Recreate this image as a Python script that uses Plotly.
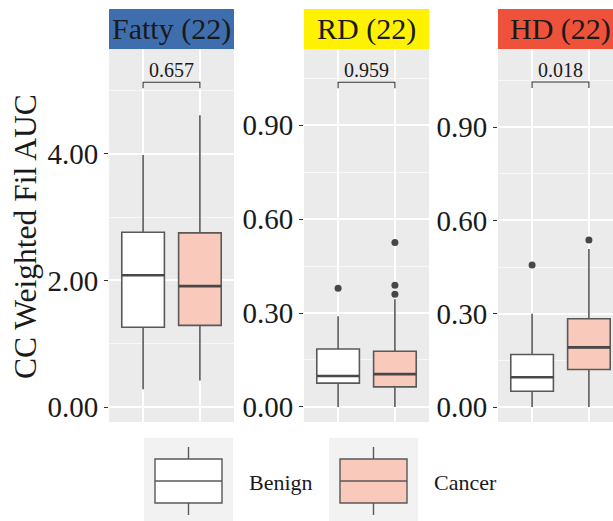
import plotly.graph_objects as go

# ---- data -------------------------------------------------------------
panels = ["Fatty (22)", "RD (22)", "HD (22)"]
strip_colors = ["#3F6EAE", "#FFF200", "#EF523B"]
groups = ["Benign", "Cancer"]
group_fill = ["#FFFFFF", "#F9C9BC"]

# five-number summaries per panel: [Benign, Cancer]
q1 = [[1.26, 1.29], [0.076, 0.064], [0.051, 0.121]]
median = [[2.08, 1.91], [0.099, 0.105], [0.096, 0.192]]
q3 = [[2.76, 2.75], [0.185, 0.178], [0.169, 0.284]]
lower = [[0.28, 0.42], [0.0, 0.0], [0.0, 0.0]]
upper = [[3.98, 4.61], [0.29, 0.344], [0.30, 0.508]]
outliers = [[[], []], [[0.379], [0.36, 0.389, 0.525]], [[0.457], [0.537]]]

p_values = ["0.657", "0.959", "0.018"]
bracket_y = [5.13, 1.037, 1.045]
bracket_tip = [0.095, 0.019, 0.019]

y_ranges = [[-0.237, 5.655], [-0.048, 1.143], [-0.048, 1.151]]
y_ticks = [[0, 2, 4], [0, 0.3, 0.6, 0.9], [0, 0.3, 0.6, 0.9]]
y_minor = [1, 0.15, 0.15]
x_ranges = [[0.4, 2.6], [0.4, 2.6], [0.4, 2.424]]

# ---- layout geometry (pixels) ----------------------------------------
W, H = 613, 521
panel_x = [(109, 234), (304, 429), (498, 613)]
plot_top, plot_bot = 49, 422
strip_top = 9


def px(x):
    return x / W


def py(y):
    return (H - y) / H


FONT = "Liberation Serif, Times New Roman, serif"
INK = "#1A1A1A"
BOX_LINE = "#595959"

fig = go.Figure()
box_w = 0.75

for p in range(3):
    xa = "x" if p == 0 else f"x{p + 1}"
    ya = "y" if p == 0 else f"y{p + 1}"
    for g in range(2):
        xpos = g + 1
        fig.add_trace(go.Box(
            x=[xpos], q1=[q1[p][g]], median=[median[p][g]], q3=[q3[p][g]],
            lowerfence=[lower[p][g]], upperfence=[upper[p][g]],
            width=box_w, whiskerwidth=0, boxpoints=False,
            fillcolor=group_fill[g], line=dict(color=BOX_LINE, width=1.6),
            xaxis=xa, yaxis=ya, showlegend=False, hoverinfo="skip",
        ))
        # heavier median bar
        fig.add_trace(go.Scatter(
            x=[xpos - box_w / 2, xpos + box_w / 2],
            y=[median[p][g], median[p][g]],
            mode="lines", line=dict(color="#484848", width=2.6),
            xaxis=xa, yaxis=ya, showlegend=False, hoverinfo="skip",
        ))
        if outliers[p][g]:
            fig.add_trace(go.Scatter(
                x=[xpos] * len(outliers[p][g]), y=outliers[p][g],
                mode="markers", marker=dict(color="#474747", size=7),
                xaxis=xa, yaxis=ya, showlegend=False, hoverinfo="skip",
            ))
    # comparison bracket
    by, bt = bracket_y[p], bracket_tip[p]
    fig.add_trace(go.Scatter(
        x=[1, 1, 2, 2], y=[by - bt, by, by, by - bt],
        mode="lines", line=dict(color="#333333", width=1.1),
        xaxis=xa, yaxis=ya, showlegend=False, hoverinfo="skip",
    ))
    fig.add_annotation(
        x=1.5, y=by, xref=xa, yref=ya, text=p_values[p], showarrow=False,
        yanchor="bottom", yshift=-1, font=dict(family=FONT, size=20, color=INK),
    )
    # facet strip
    fig.add_shape(
        type="rect", xref="paper", yref="paper",
        x0=px(panel_x[p][0]), x1=px(panel_x[p][1]),
        y0=py(plot_top), y1=py(strip_top),
        fillcolor=strip_colors[p], line=dict(width=0), layer="below",
    )
    fig.add_annotation(
        x=1.5, y=py((strip_top + plot_top) / 2), xref=xa, yref="paper",
        text=panels[p], showarrow=False, xanchor="center", yanchor="middle",
        font=dict(family=FONT, size=30, color=INK),
    )

    axis_common = dict(showline=False, zeroline=False)
    fig.update_layout(**{
        ("xaxis" if p == 0 else f"xaxis{p + 1}"): dict(
            domain=[px(panel_x[p][0]), px(panel_x[p][1])],
            range=x_ranges[p], anchor=ya,
            tickvals=[1, 2], showticklabels=False, ticks="",
            showgrid=True, gridcolor="white", gridwidth=1.6,
            **axis_common,
        ),
        ("yaxis" if p == 0 else f"yaxis{p + 1}"): dict(
            domain=[py(plot_bot), py(plot_top)],
            range=y_ranges[p], anchor=xa,
            tickvals=y_ticks[p], tickformat=".2f",
            ticks="outside", ticklen=4, tickwidth=1, tickcolor="#333333",
            tickfont=dict(family=FONT, size=29, color=INK),
            showgrid=True, gridcolor="white", gridwidth=1.6,
            minor=dict(dtick=y_minor[p], tick0=y_minor[p] if p == 0 else 0.15,
                       showgrid=True, gridcolor="#F7F7F7", gridwidth=0.8, ticks=""),
            **axis_common,
        ),
    })

# axis title
fig.add_annotation(
    x=px(26), y=py(237), xref="paper", yref="paper",
    text="CC Weighted Fil AUC", textangle=-90, showarrow=False,
    xanchor="center", yanchor="middle",
    font=dict(family=FONT, size=31.5, color=INK),
)

# legend keys
key_x = [(144, 233), (329, 418)]
label_x = [247, 432]
for g in range(2):
    kx0, kx1 = key_x[g]
    cx = (kx0 + kx1) / 2
    fig.add_shape(type="rect", xref="paper", yref="paper",
                  x0=px(kx0), x1=px(kx1), y0=py(521), y1=py(438),
                  fillcolor="#F2F2F3", line=dict(width=0))
    fig.add_shape(type="line", xref="paper", yref="paper",
                  x0=px(cx), x1=px(cx), y0=py(459), y1=py(447),
                  line=dict(color=BOX_LINE, width=1.4))
    fig.add_shape(type="line", xref="paper", yref="paper",
                  x0=px(cx), x1=px(cx), y0=py(515), y1=py(503),
                  line=dict(color=BOX_LINE, width=1.4))
    fig.add_shape(type="rect", xref="paper", yref="paper",
                  x0=px(cx - 33.5), x1=px(cx + 33.5), y0=py(503), y1=py(459),
                  fillcolor=group_fill[g], line=dict(color=BOX_LINE, width=1.4))
    fig.add_shape(type="line", xref="paper", yref="paper",
                  x0=px(cx - 33.5), x1=px(cx + 33.5), y0=py(481), y1=py(481),
                  line=dict(color=BOX_LINE, width=1.4))
    fig.add_annotation(
        x=px(label_x[g]), y=py(482), xref="paper", yref="paper",
        text=groups[g], showarrow=False, xanchor="left", yanchor="middle",
        font=dict(family=FONT, size=22, color=INK),
    )

fig.update_layout(
    width=W, height=H, margin=dict(l=0, r=0, t=0, b=0),
    paper_bgcolor="white", plot_bgcolor="#EBEBEB",
    showlegend=False, boxmode="overlay",
)

fig.write_html("out.html")
